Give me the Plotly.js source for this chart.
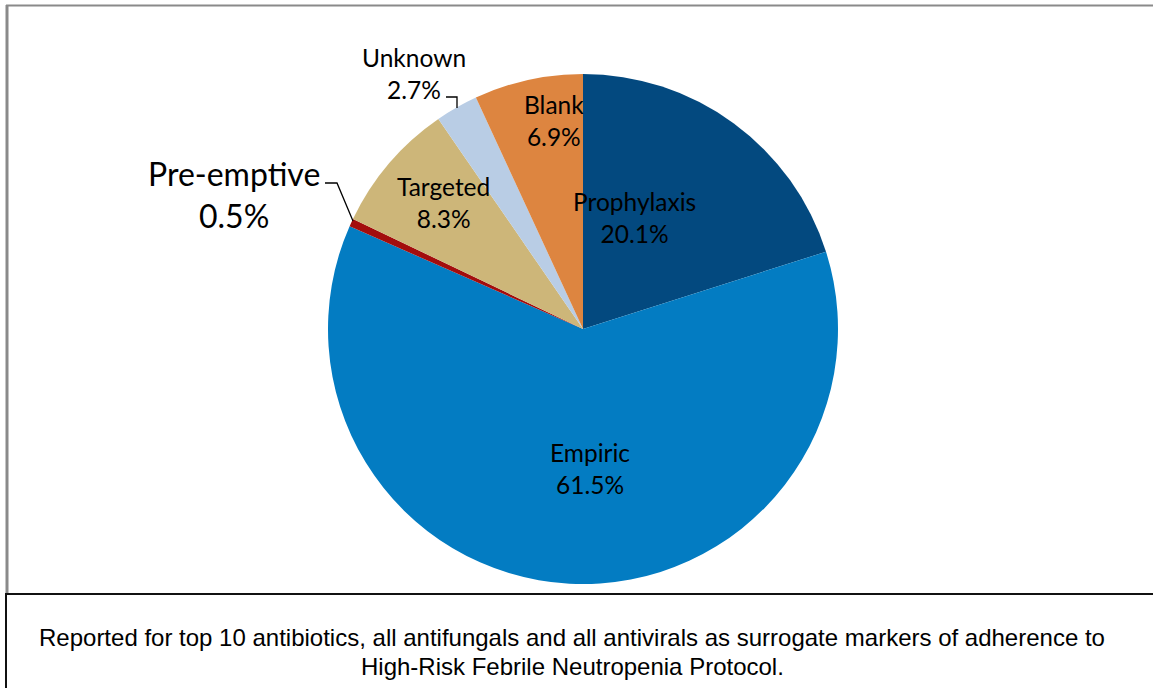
<!DOCTYPE html>
<html>
<head>
<meta charset="utf-8">
<script src="https://cdn.plot.ly/plotly-3.0.1.min.js"></script>
<style>html,body{margin:0;padding:0;background:#fff;}#chart{width:1153px;height:688px;}</style>
</head>
<body>
<div id="chart"></div>
<script>
// ---- data ----
const categories = ["Prophylaxis", "Empiric", "Pre-emptive", "Targeted", "Unknown", "Blank"];
const shares = [20.1, 61.5, 0.5, 8.3, 2.7, 6.9];
const sliceColors = ["#03497f", "#037cc2", "#a30d0d", "#cdb679", "#b9cde5", "#dd8540"];
const footnoteLines = [
  "Reported for top 10 antibiotics, all antifungals and all antivirals as surrogate markers of adherence to",
  "High-Risk Febrile Neutropenia Protocol."
];

// ---- layout helpers (pixel -> paper) ----
const W = 1153, H = 688;
const px = x => x / W;
const py = y => 1 - y / H;

// label placement (pixels, centre of label block, font size)
const labelPos = {
  "Prophylaxis": [634, 217, 24.5],
  "Empiric": [590, 468, 24.5],
  "Pre-emptive": [234, 195, 32],
  "Targeted": [443, 203, 24.5],
  "Unknown": [414, 74, 24.5],
  "Blank": [554, 121, 24.5]
};
const footnoteY = [637, 666];

const cx = 583, cy = 329, r = 255;

const trace = {
  type: "pie",
  labels: categories,
  values: shares,
  sort: false,
  direction: "clockwise",
  rotation: 0,
  marker: { colors: sliceColors, line: { width: 0 } },
  textinfo: "none",
  hoverinfo: "label+percent",
  showlegend: false,
  domain: { x: [px(cx - r), px(cx + r)], y: [py(cy + r), py(cy - r)] }
};

const annotations = categories.map((c, i) => {
  const p = labelPos[c];
  return {
    xref: "paper", yref: "paper",
    x: px(p[0]), y: py(p[1]),
    xanchor: "center", yanchor: "middle",
    showarrow: false,
    text: c + "<br>" + shares[i].toFixed(1) + "%",
    font: { family: "Lato, 'Noto Sans', sans-serif", size: p[2], color: "#000" }
  };
});
footnoteLines.forEach((t, i) => {
  annotations.push({
    xref: "paper", yref: "paper",
    x: px(572), y: py(footnoteY[i]),
    xanchor: "center", yanchor: "middle",
    showarrow: false,
    text: t,
    font: { family: "'Liberation Sans', Arial, sans-serif", size: 24, color: "#000" }
  });
});

function path(pts) {
  return "M" + pts.map(p => px(p[0]) + "," + py(p[1])).join(" L");
}

const shapes = [
  // outer chart frame (grey)
  { type: "line", xref: "paper", yref: "paper", x0: px(6), x1: px(1153), y0: py(5.5), y1: py(5.5), line: { color: "#8a8a8a", width: 2 } },
  { type: "line", xref: "paper", yref: "paper", x0: px(7), x1: px(7), y0: py(5), y1: py(594), line: { color: "#8a8a8a", width: 3 } },
  // footnote box (black)
  { type: "line", xref: "paper", yref: "paper", x0: px(5), x1: px(1153), y0: py(594), y1: py(594), line: { color: "#111", width: 2 } },
  { type: "line", xref: "paper", yref: "paper", x0: px(6), x1: px(6), y0: py(594), y1: py(688), line: { color: "#111", width: 2 } },
  // leader lines
  { type: "path", xref: "paper", yref: "paper", path: path([[446, 97], [457, 97], [457, 108]]), line: { color: "#000", width: 1.3 } },
  { type: "path", xref: "paper", yref: "paper", path: path([[325, 183], [337, 183], [353, 221]]), line: { color: "#000", width: 1.3 } }
];

const layout = {
  width: W, height: H,
  margin: { l: 0, r: 0, t: 0, b: 0, pad: 0 },
  paper_bgcolor: "#fff",
  plot_bgcolor: "#fff",
  showlegend: false,
  annotations: annotations,
  shapes: shapes
};

Plotly.newPlot("chart", [trace], layout, { displayModeBar: false, staticPlot: true });
</script>
</body>
</html>
